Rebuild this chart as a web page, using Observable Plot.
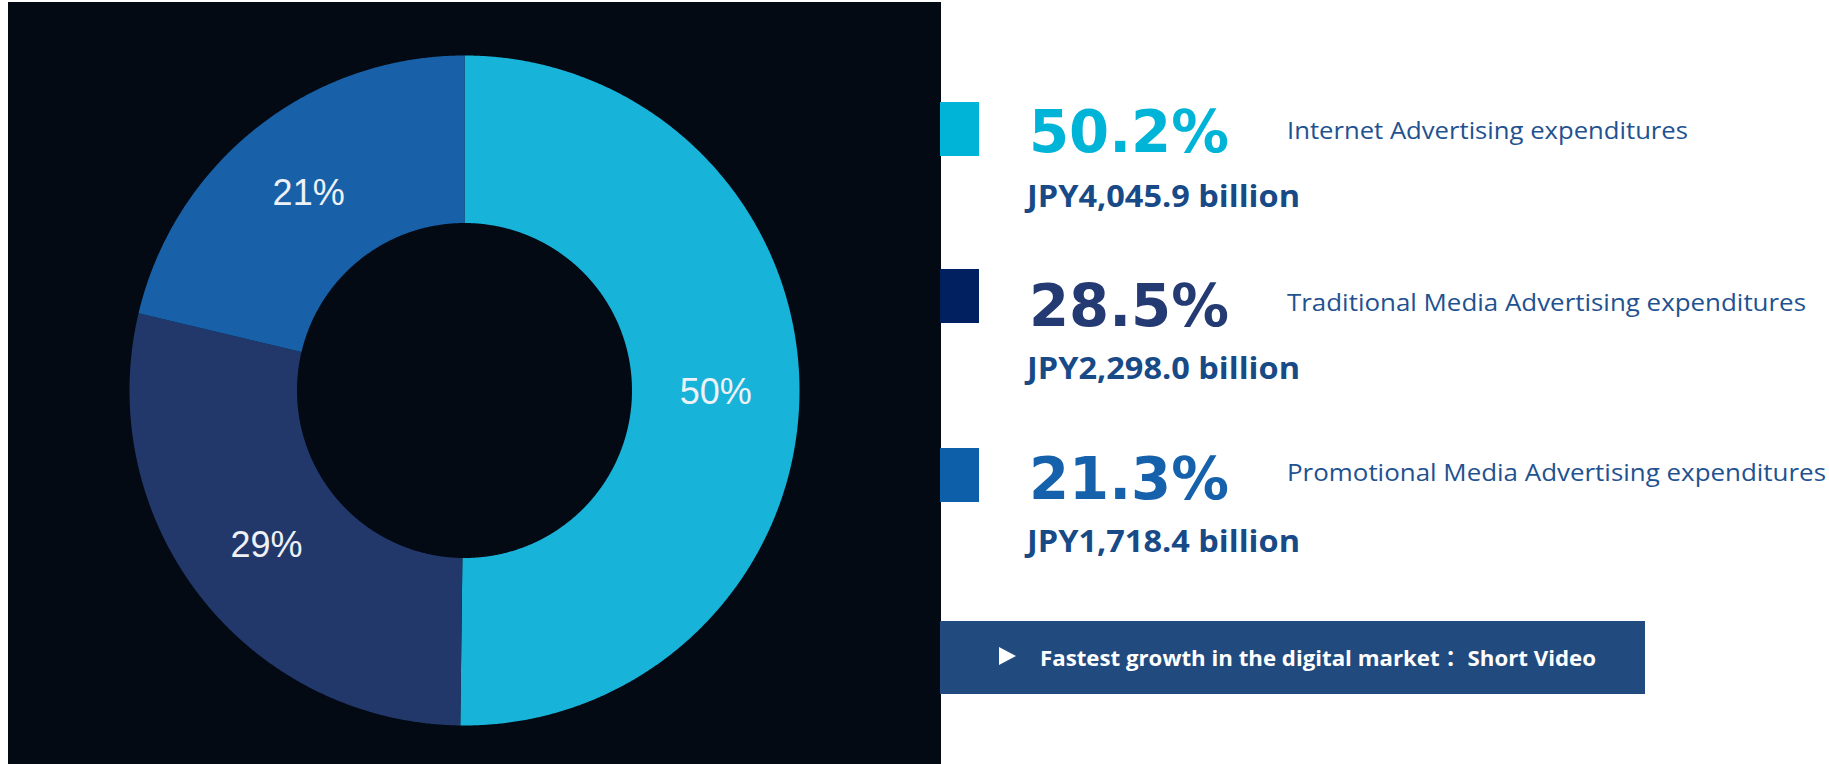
<!DOCTYPE html>
<html>
<head>
<meta charset="utf-8">
<script src="https://cdn.jsdelivr.net/npm/d3@7"></script>
<script src="https://cdn.jsdelivr.net/npm/@observablehq/plot@0.6"></script>
<style>
  html, body { margin: 0; padding: 0; background: #ffffff; }
  #wrap { position: relative; width: 1829px; height: 764px; overflow: hidden; }
  #chart { position: absolute; left: 8px; top: 2px; }
  #legend { position: absolute; left: 0; top: 0; }
</style>
</head>
<body>
<div id="wrap">
  <div id="chart"></div>
  <svg id="legend" width="1829" height="764"></svg>
</div>
<script>
// ---- Data ----
const categories = [
  "Internet Advertising expenditures",
  "Traditional Media Advertising expenditures",
  "Promotional Media Advertising expenditures"
];
const shares = [50.2, 28.5, 21.3];
const shareLabels = ["50.2%", "28.5%", "21.3%"];
const amounts = ["JPY4,045.9 billion", "JPY2,298.0 billion", "JPY1,718.4 billion"];
const sliceColors = ["#18b3d9", "#22386b", "#1860a8"];
const swatchColors = ["#00b4d8", "#002060", "#0e5faa"];
const shareTextColors = ["#00b4d8", "#233a72", "#1561ab"];
const bannerText = "Fastest growth in the digital market\uFF1A Short Video";

// ---- Donut geometry from data ----
const innerR = 0.5, outerR = 1;
const arcs = d3.pie().sort(null).value(d => d)(shares);
const polyPts = [];
const labelPts = [];
arcs.forEach((a, i) => {
  const n = Math.max(2, Math.ceil((a.endAngle - a.startAngle) / 0.005));
  for (let k = 0; k <= n; k++) {
    const t = a.startAngle + (a.endAngle - a.startAngle) * k / n;
    polyPts.push({cat: categories[i], x: outerR * Math.sin(t), y: outerR * Math.cos(t)});
  }
  for (let k = n; k >= 0; k--) {
    const t = a.startAngle + (a.endAngle - a.startAngle) * k / n;
    polyPts.push({cat: categories[i], x: innerR * Math.sin(t), y: innerR * Math.cos(t)});
  }
  const m = (a.startAngle + a.endAngle) / 2, r = (innerR + outerR) / 2;
  labelPts.push({x: r * Math.sin(m), y: r * Math.cos(m), label: Math.round(shares[i]) + "%"});
});

const W = 933, H = 762, cx = 456, cy = 388, R = 335;
const plot = Plot.plot({
  width: W,
  height: H,
  margin: 0,
  style: {background: "#030a14", fontFamily: "'Liberation Sans', Arial, sans-serif"},
  x: {domain: [-1, 1], range: [cx - R, cx + R], axis: null},
  y: {domain: [-1, 1], range: [cy + R, cy - R], axis: null},
  color: {domain: categories, range: sliceColors},
  marks: [
    Plot.line(polyPts, {x: "x", y: "y", z: "cat", fill: "cat", stroke: null, curve: "linear-closed"}),
    Plot.text(labelPts, {x: "x", y: "y", text: "label", fill: "#eef1f6", fontSize: 36, fontFamily: "'Liberation Sans', Arial, sans-serif"})
  ]
});
document.getElementById("chart").appendChild(plot);

// ---- Legend (right side) ----
const L = d3.select("#legend");
const swatchTop = [102, 269, 448];
const swatchH = 54;
const pctBase = [152, 326, 499];
const labelBase = [139, 311, 481];
const labelW = [401, 519, 539];
const amtBase = [207, 379, 552];

categories.forEach((c, i) => {
  L.append("rect").attr("x", 940).attr("y", swatchTop[i]).attr("width", 39).attr("height", swatchH)
    .attr("fill", swatchColors[i]);
  L.append("text").attr("x", 1029).attr("y", pctBase[i]).text(shareLabels[i])
    .attr("font-family", "'DejaVu Sans', sans-serif").attr("font-weight", "bold")
    .attr("font-size", 58).attr("fill", shareTextColors[i])
    .attr("textLength", 200).attr("lengthAdjust", "spacingAndGlyphs");
  L.append("text").attr("x", 1287).attr("y", labelBase[i]).text(c)
    .attr("font-family", "'Open Sans', sans-serif")
    .attr("font-size", 24).attr("fill", "#1f5290")
    .attr("textLength", labelW[i]).attr("lengthAdjust", "spacingAndGlyphs");
  L.append("text").attr("x", 1027).attr("y", amtBase[i]).text(amounts[i])
    .attr("font-family", "'Open Sans', sans-serif").attr("font-weight", "bold")
    .attr("font-size", 30).attr("fill", "#174a87")
    .attr("textLength", 273).attr("lengthAdjust", "spacingAndGlyphs");
});

// banner
L.append("rect").attr("x", 940).attr("y", 621).attr("width", 705).attr("height", 73).attr("fill", "#214a7e");
L.append("path").attr("d", "M999,647 L999,665 L1016,656 Z").attr("fill", "#ffffff");
L.append("text").attr("x", 1040).attr("y", 666).text(bannerText)
  .attr("font-family", "'Open Sans', 'Noto Sans CJK JP', sans-serif").attr("font-weight", "bold")
  .attr("font-size", 22).attr("fill", "#ffffff")
  .attr("textLength", 556).attr("lengthAdjust", "spacingAndGlyphs");
</script>
</body>
</html>
